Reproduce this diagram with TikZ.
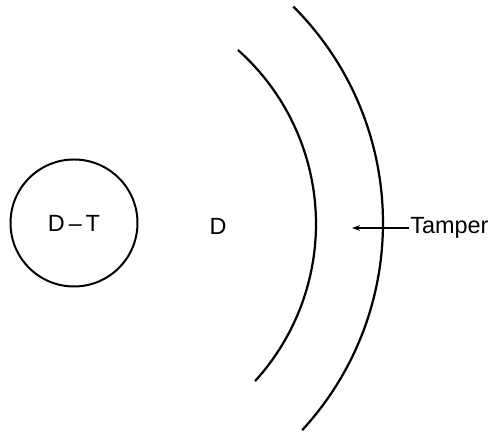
\documentclass[tikz,border=0pt]{standalone}
\usepackage{fontspec}
\setmainfont{Liberation Sans}
\usepackage{tikz}
\usetikzlibrary{positioning,arrows.meta}
\tikzset{
  label/.style={font=\fontsize{20}{24}\selectfont, inner sep=1pt},
  core/.style={circle, draw, line width=1.7pt, minimum size=127*0.03cm,
               font=\fontsize{20}{24}\selectfont, inner sep=0pt},
  shell/.style={line width=1.9pt},
  pointer/.style={-{Stealth[length=2.4mm,width=1.7mm]}, line width=1.1pt}
}
\begin{document}
\begin{tikzpicture}[x=0.03cm, y=0.03cm]
\useasboundingbox (0,0) rectangle (491,433);
% fuel sphere and surrounding gas
\node[core] (dt) at (74,210) {D\,--\,T};
\node[label] (d) at (218,207) {D};
% tamper shell
\draw[shell] (83,209) ++(48.3:233) arc[start angle=48.3, end angle=-42.4, radius=233];
\draw[shell] (77,210) ++(45:306) arc[start angle=45, end angle=-42.6, radius=306];
\node[label, anchor=west] (tamper) at (409,205) {Tamper};
\coordinate (tip) at (352,205);
\draw[pointer] (tamper.west) -- (tip);
\end{tikzpicture}
\end{document}
